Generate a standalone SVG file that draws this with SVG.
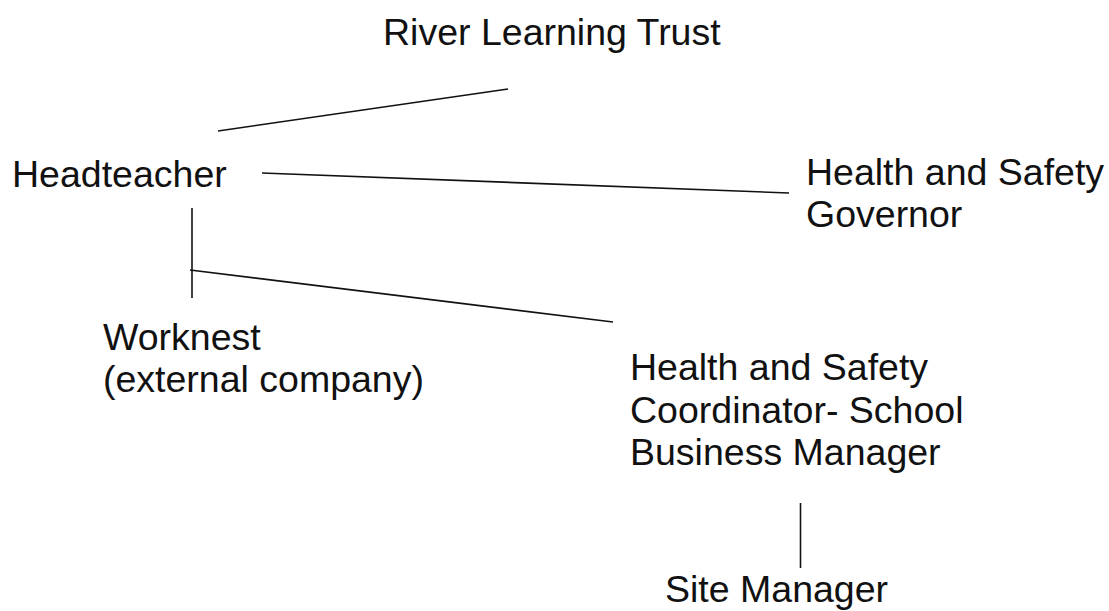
<svg xmlns="http://www.w3.org/2000/svg" width="1109" height="611" viewBox="0 0 1109 611">
<style>
.t{font-family:"Liberation Sans",Arial,sans-serif;font-size:37.5px;fill:#111}
.c{stroke:#111;stroke-width:1.6;fill:none;stroke-linecap:butt}
</style>
<rect width="1109" height="611" fill="#fff"/>
<g id="connectors">
<line class="c" x1="218" y1="131" x2="508" y2="89"/>
<line class="c" x1="262" y1="173" x2="789" y2="193"/>
<line class="c" x1="192" y1="208" x2="192" y2="298"/>
<line class="c" x1="190" y1="270" x2="613" y2="322"/>
<line class="c" x1="800.5" y1="503" x2="800.5" y2="568"/>
</g>
<g id="node-rlt"><text class="t" x="383" y="45">River Learning Trust</text></g>
<g id="node-head"><text class="t" x="12" y="187">Headteacher</text></g>
<g id="node-gov"><text class="t" x="806" y="185">Health and Safety<tspan x="806" y="227">Governor</tspan></text></g>
<g id="node-worknest"><text class="t" x="103" y="350">Worknest<tspan x="103" y="392">(external company)</tspan></text></g>
<g id="node-coord"><text class="t" x="630" y="380">Health and Safety<tspan x="630" y="423">Coordinator- School</tspan><tspan x="630" y="465">Business Manager</tspan></text></g>
<g id="node-site"><text class="t" x="665" y="602">Site Manager</text></g>
</svg>
